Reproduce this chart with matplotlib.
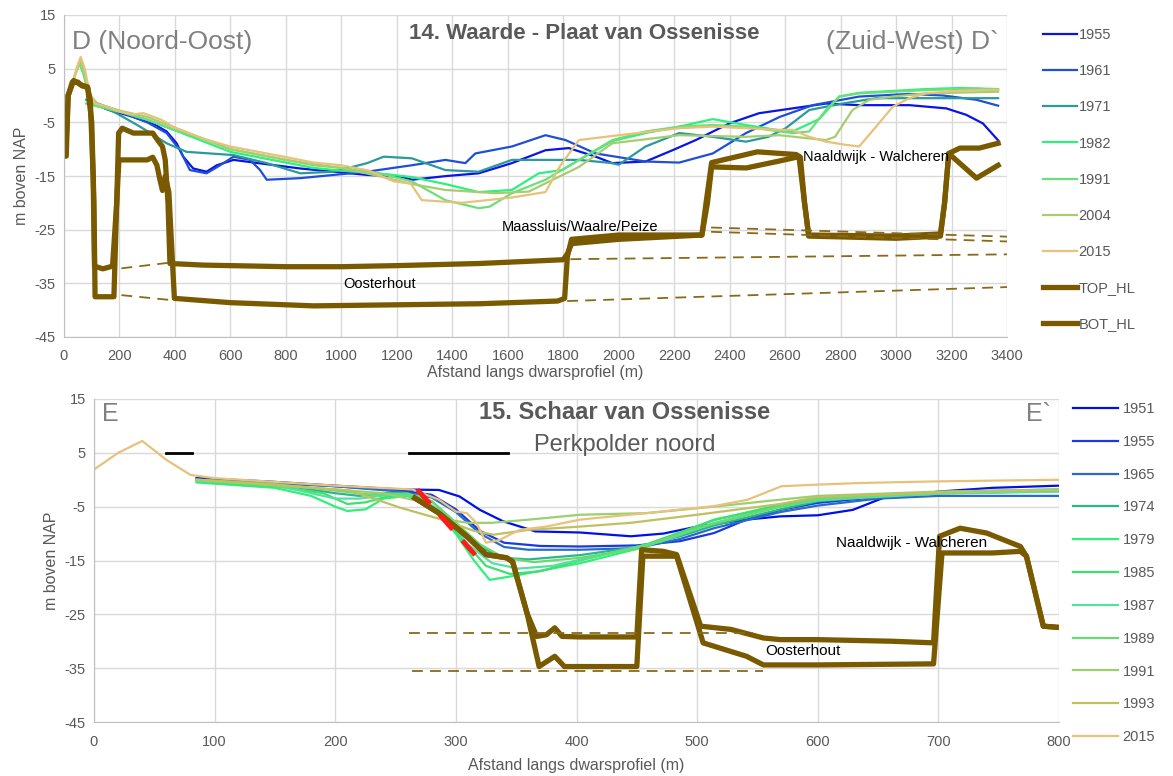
import matplotlib
matplotlib.use('Agg')
import matplotlib.pyplot as plt

plt.rcParams['font.family'] = ['Liberation Sans', 'DejaVu Sans']
plt.rcParams['axes.unicode_minus'] = False

# ------------------------------- data, top profile (14. Waarde - Plaat van Ossenisse)
top_years = ['1955', '1961', '1971', '1982', '1991', '2004', '2015']
top_colors = ['#0a14e6', '#1f4fd8', '#2a9a9a', '#2ef07a', '#6be07a', '#a8cc70', '#e6c27a']

t1955 = [(85, -0.8), (150, -2.5), (250, -4), (330, -5.5), (370, -6.7), (406, -8.9), (430, -11.4), (466, -13.6),
         (514, -14.2), (551, -13), (611, -12), (731, -12.8), (852, -13.6), (972, -14.2), (1093, -14.8),
         (1213, -15.1), (1254, -15.7), (1380, -15), (1495, -14.5), (1615, -12.6), (1736, -10.2), (1820, -9.8),
         (1917, -11.4), (1977, -12.6), (2097, -12.3), (2194, -10.2), (2278, -8.3), (2399, -5.2), (2506, -3.3),
         (2627, -2.4), (2747, -1.5), (2867, -1.8), (3048, -1.8), (3181, -2.4), (3253, -3.6), (3313, -5.2),
         (3367, -8.3)]
t1961 = [(85, -0.8), (200, -3), (300, -5), (370, -7), (418, -10.2), (454, -13.9), (514, -14.5), (563, -13),
         (611, -11.4), (671, -12), (707, -13.9), (731, -15.7), (852, -15.4), (972, -14.8), (1093, -14.2),
         (1213, -13.3), (1254, -13), (1375, -12), (1447, -12.6), (1483, -10.8), (1615, -9.5), (1736, -7.4),
         (1808, -8.3), (1917, -10.8), (2097, -12.3), (2218, -12.5), (2339, -10.8), (2459, -7), (2580, -4),
         (2700, -1.8), (2867, -0.2), (3048, 0.3), (3169, 0), (3290, -0.8), (3368, -1.9)]
t1971 = [(80, -0.8), (189, -3.3), (274, -5.8), (370, -8.9), (442, -10.5), (611, -11.1), (731, -12.6),
         (852, -14.5), (972, -14.2), (1093, -12.6), (1153, -11.4), (1254, -11.7), (1375, -13.9), (1495, -14.2),
         (1615, -12), (1857, -12), (1977, -12.6), (2000, -12.9), (2097, -9.5), (2218, -7), (2339, -7.7),
         (2459, -8.6), (2540, -7.7), (2602, -6.1), (2687, -2.7), (2807, -1.5), (2928, -0.5), (3368, -0.5)]
t1982 = [(80, -1.5), (200, -3), (300, -4.5), (400, -6.5), (500, -8.5), (600, -10.5), (700, -11.5), (800, -12.5),
         (900, -13.5), (1000, -14), (1134, -14.5), (1254, -15.2), (1375, -16.5), (1495, -18), (1615, -17.6),
         (1712, -14.5), (1796, -13.9), (1857, -12), (1977, -8.5), (2097, -7), (2218, -5.8), (2339, -4.4),
         (2459, -5.5), (2580, -6.5), (2627, -6.7), (2723, -4.4), (2795, -0.2), (2867, 0.5), (3108, 1.2),
         (3229, 1.4), (3368, 1.2)]
t1991 = [(10, -0.5), (35, 3), (55, 6), (70, 4), (90, 0), (120, -2), (200, -3), (300, -4.5), (400, -6.5),
         (500, -8), (600, -10), (700, -11), (800, -12), (900, -13), (1000, -13.5), (1134, -14.5), (1254, -16),
         (1375, -19.5), (1495, -21), (1535, -20.7), (1615, -18.2), (1736, -15.7), (1857, -12), (1977, -8.3),
         (2097, -6.7), (2218, -5.8), (2339, -5.5), (2459, -5.8), (2580, -6.7), (2627, -7), (2687, -6.7),
         (2747, -2.7), (2795, -0.2), (2867, 0.4), (3108, 1), (3290, 1.3), (3368, 1)]
t2004 = [(0, -0.3), (20, 0.5), (40, 4), (60, 6.5), (75, 4), (95, 0), (120, -1.5), (200, -2.8), (300, -4),
         (400, -6), (500, -8), (600, -10), (700, -11), (800, -12), (900, -12.8), (1000, -13.5), (1134, -15),
         (1254, -16.5), (1375, -17.6), (1555, -18.2), (1676, -17.9), (1857, -13.3), (1977, -8.9), (2218, -7.4),
         (2459, -7.7), (2580, -7.4), (2687, -8), (2747, -8.3), (2780, -7.7), (2843, -2.7), (2904, -0.8),
         (2988, -0.2), (3108, 0.4), (3368, 0.7)]
t2015 = [(0, -0.5), (20, 0), (45, 5), (60, 7.2), (75, 5), (90, 1), (110, -1.5), (150, -2), (200, -3), (250, -3.5),
         (286, -3.3), (350, -4.5), (400, -6), (500, -8), (599, -9.5), (700, -10.5), (792, -11.4), (900, -12.5),
         (1000, -13), (1100, -14), (1189, -16), (1250, -16.4), (1290, -19.5), (1435, -20), (1615, -19),
         (1736, -18), (1790, -13), (1857, -8.3), (2000, -7.4), (2218, -6.1), (2339, -5.8), (2459, -6.1),
         (2580, -6.4), (2626, -6.4), (2687, -7.7), (2747, -8.6), (2820, -9.2), (2867, -9.5), (2928, -5.8),
         (2988, -2.1), (3048, -0.5), (3108, 0.4), (3229, 0.9), (3368, 1.1)]
top_series = [t1955, t1961, t1971, t1982, t1991, t2004, t2015]

top_hl = [(0, -8.5), (8, -8.5), (15, 0), (30, 2.5), (50, 2.5), (65, 1.8), (85, 1.5), (95, -1), (105, -15),
          (110, -31.8), (140, -32.3), (175, -31.8), (190, -20), (197, -7), (210, -6.1), (250, -7), (320, -7),
          (340, -8.5), (355, -9.5), (365, -12), (375, -20), (382, -31.3), (500, -31.6), (800, -31.9),
          (1000, -31.9), (1200, -31.7), (1500, -31.3), (1800, -30.6), (1815, -29.5), (1830, -27.6),
          (2000, -26.8), (2300, -26), (2320, -20), (2335, -13.3), (2460, -13.5), (2580, -12.2), (2650, -11.4),
          (2670, -20), (2685, -26), (3000, -26.2), (3160, -25.8), (3175, -20), (3190, -10.8), (3230, -9.8),
          (3300, -9.8), (3368, -8.9)]
bot_hl = [(0, -11.3), (8, -11.3), (15, 0), (35, 2.8), (60, 2), (85, 1.6), (100, -5), (108, -20), (112, -37.5),
          (180, -37.5), (190, -20), (198, -12), (300, -12), (320, -11.5), (335, -13), (345, -15.5), (355, -17.7),
          (365, -15), (378, -18), (390, -30), (398, -37.8), (600, -38.6), (900, -39.2), (1200, -39),
          (1500, -38.8), (1780, -38.3), (1805, -37.8), (1815, -30), (1830, -26.8), (2000, -26), (2300, -26),
          (2315, -20), (2335, -12.5), (2500, -10.5), (2640, -11), (2655, -11.5), (2670, -20), (2685, -26.2),
          (3000, -26.6), (3160, -26.2), (3175, -20), (3190, -10.8), (3290, -15.4), (3368, -13)]

top_dashed = [[(207, -32.2), (406, -31.0)], [(207, -37.2), (382, -38.1)],
              [(1826, -30.5), (3400, -29.6)], [(1814, -38.3), (3400, -35.7)],
              [(2333, -24.6), (3400, -26.3)], [(2333, -25.4), (3400, -27.2)]]

# ------------------------------- data, bottom profile (15. Schaar van Ossenisse)
bot_years = ['1951', '1955', '1965', '1974', '1979', '1985', '1987', '1989', '1991', '1993', '2015']
bot_colors = ['#0010e8', '#1a3ae0', '#2a6ac8', '#2ab88a', '#2ef07a', '#40e070', '#55e0a0', '#6cd870',
              '#9ad070', '#c0c060', '#e6c27a']

b1951 = [(85, 0.3), (143, -0.3), (185, -0.9), (254, -1.8), (286, -1.9), (303, -3.1), (320, -5.6), (339, -7.7),
         (366, -9.6), (403, -9.8), (445, -10.5), (472, -10), (500, -8.7), (541, -7.4), (569, -6.8), (600, -6.6),
         (629, -5.6), (654, -3.4), (676, -2.9), (700, -2.2), (745, -1.5), (800, -1.1)]
b1955 = [(85, 0.2), (150, -0.5), (200, -1.2), (254, -2), (280, -2.8), (300, -5.5), (320, -9.5), (340, -11.7),
         (370, -12.3), (403, -12.4), (450, -12.2), (486, -11.4), (514, -9.9), (541, -7.4), (569, -5.6),
         (600, -4.3), (650, -3.2), (700, -2.5), (800, -2.1)]
b1965 = [(85, 0), (200, -1.2), (254, -2.2), (280, -3.3), (300, -6), (320, -10), (340, -12.5), (360, -13),
         (403, -13), (450, -12.7), (486, -11), (514, -9), (569, -6), (600, -4.8), (650, -3.5), (700, -3),
         (800, -3)]
b1974 = [(85, 0), (150, -0.8), (200, -2.5), (220, -3), (240, -2.5), (260, -2.5), (280, -4), (300, -8),
         (320, -12.5), (340, -14.5), (360, -14.8), (403, -14), (450, -12.5), (486, -10.5), (514, -8.5),
         (569, -5.5), (600, -4), (650, -3), (700, -2.5), (800, -2)]
b1979 = [(85, -0.5), (150, -1.5), (180, -3), (200, -5), (210, -5.8), (225, -5.5), (240, -3.5), (260, -3),
         (280, -5), (300, -10), (315, -15), (328, -18.6), (347, -17.9), (361, -17.3), (403, -15.5),
         (458, -12.4), (486, -9.9), (514, -7.4), (569, -4.9), (600, -3.8), (650, -2.8), (700, -2.3), (800, -1.8)]
b1985 = [(85, -0.3), (150, -1.2), (190, -2.5), (210, -4.5), (225, -4.2), (245, -3), (265, -3), (285, -5.5),
         (305, -11), (325, -16), (345, -17.5), (370, -17), (403, -15), (458, -12), (514, -7.5), (569, -4.6),
         (600, -3.5), (700, -2.4), (800, -2)]
b1987 = [(85, -0.2), (150, -1), (200, -3.5), (220, -3.5), (245, -2.8), (270, -3), (290, -6.5), (310, -12),
         (330, -15.5), (352, -16.5), (380, -16), (420, -14), (470, -11.5), (514, -8), (569, -5), (600, -3.8),
         (700, -2.6), (800, -2.2)]
b1989 = [(85, 0), (150, -0.8), (200, -2), (230, -2.8), (260, -2.6), (280, -4), (300, -8), (320, -12),
         (340, -14.5), (365, -15.3), (403, -14.5), (450, -12.8), (500, -9), (569, -5), (600, -3.5), (700, -2.3),
         (800, -1.8)]
b1991 = [(85, 0), (150, -1), (200, -1.8), (240, -2.5), (270, -4), (292, -7.4), (310, -8), (330, -8),
         (361, -7.4), (403, -6.5), (458, -6.2), (514, -5), (569, -3.7), (600, -3), (700, -2.2), (800, -1.8)]
b1993 = [(85, 0), (150, -1), (212, -2), (254, -5.2), (290, -7.5), (315, -9.5), (331, -10.2), (361, -9.3),
         (403, -8.7), (445, -8), (500, -6.5), (569, -4.5), (600, -3.2), (700, -2.4), (800, -1.9)]
b2015 = [(0, 1.9), (20, 5), (40, 7.2), (60, 3.7), (80, 0.9), (100, 0.3), (150, -0.4), (200, -1.1), (236, -1.5),
         (264, -1.8), (286, -3.7), (300, -5.9), (309, -6.2), (317, -8), (325, -11.7), (336, -11.2),
         (353, -9.3), (375, -8.7), (403, -7.4), (458, -6.2), (514, -4.9), (542, -3.7), (570, -1.2),
         (600, -0.9), (635, -0.6), (700, -0.3), (800, 0)]
bot_series = [b1951, b1955, b1965, b1974, b1979, b1985, b1987, b1989, b1991, b1993, b2015]

e_top_hl = [(266, -3.4), (286, -6.2), (309, -10.5), (325, -13.9), (342, -14.5), (347, -15.2), (359, -24.8),
            (367, -29.1), (375, -28.8), (382, -27.5), (388, -29.1), (403, -29.2), (450, -29.2), (454, -13),
            (472, -13.3), (483, -13.9), (503, -27.2), (528, -27.8), (555, -29.4), (569, -29.7), (600, -29.7),
            (662, -30), (696, -30.3), (701, -10.5), (718, -9), (740, -9.9), (768, -12.4), (773, -14.2),
            (787, -27.2), (798, -27.4)]
e_bot_hl = [(266, -3.4), (286, -6.2), (309, -10.5), (325, -13.9), (342, -14.5), (347, -15.2), (359, -24.8),
            (369, -34.7), (382, -32.8), (390, -34.7), (450, -34.7), (455, -14.2), (483, -14.2), (505, -30.3),
            (541, -32.8), (555, -34.4), (600, -34.4), (696, -34.2), (703, -13.6), (745, -13.6), (768, -13.3),
            (773, -14.2), (787, -27.2), (798, -27.4)]
bot_dashed = [[(261, -28.5), (546, -28.5)], [(264, -35.5), (555, -35.5)]]
red_line = [(268, -1.8), (320, -15)]
black_lines = [[(60, 5), (81, 5)], [(261, 5), (343, 5)]]

BROWN = '#7a5a00'
DASH = '#8a6a1a'
GRAY = '#595959'


def xy(pts):
    return [p[0] for p in pts], [p[1] for p in pts]


def style_axes(ax, xmax, xstep, xlabelpad):
    ax.set_ylim(-45, 15)
    ax.set_yticks(range(-45, 16, 10))
    ax.set_xlim(0, xmax)
    ax.set_xticks(range(0, xmax + 1, xstep))
    ax.grid(True, color='#d9d9d9', linewidth=1)
    ax.set_axisbelow(True)
    for s in ['top', 'right']:
        ax.spines[s].set_visible(False)
    for s in ['left', 'bottom']:
        ax.spines[s].set_color('#bfbfbf')
    ax.tick_params(axis='y', length=0, labelsize=10.5, labelcolor=GRAY, pad=6)
    ax.tick_params(axis='x', length=0, labelsize=10.5, labelcolor=GRAY, pad=9)
    ax.set_ylabel('m boven NAP', fontsize=11.5, color=GRAY)
    ax.set_xlabel('Afstand langs dwarsprofiel (m)', fontsize=11.5, color=GRAY, labelpad=xlabelpad)


fig = plt.figure(figsize=(11.73, 7.76), dpi=100)

# ------------------------------- top chart
ax1 = fig.add_axes([64 / 1173, 1 - 337 / 776, (1007 - 64) / 1173, (337 - 15) / 776])
style_axes(ax1, 3400, 200, 1)
for name, col, pts in zip(top_years, top_colors, top_series):
    x, y = xy(pts)
    ax1.plot(x, y, color=col, lw=1.6, label=name)
x, y = xy(top_hl)
ax1.plot(x, y, color=BROWN, lw=3.8, label='TOP_HL', solid_joinstyle='round')
x, y = xy(bot_hl)
ax1.plot(x, y, color=BROWN, lw=3.8, label='BOT_HL', solid_joinstyle='round')
for seg in top_dashed:
    x, y = xy(seg)
    ax1.plot(x, y, color=DASH, lw=1.3, dashes=(6, 4))
ax1.text(1138, -35.1, 'Oosterhout', fontsize=10.5, ha='center', va='center')
ax1.text(1859, -24.5, 'Maassluis/Waalre/Peize', fontsize=10.5, ha='center', va='center')
ax1.text(2926, -11.4, 'Naaldwijk - Walcheren', fontsize=10.5, ha='center', va='center')
ax1.text(1876, 11.6, '14. Waarde - Plaat van Ossenisse', fontsize=16, fontweight='bold',
         color=GRAY, ha='center', va='center')
ax1.text(30, 10.0, 'D (Noord-Oost)', fontsize=19, color='#808080', ha='left', va='center')
ax1.text(3370, 10.0, '(Zuid-West) D`', fontsize=19, color='#808080', ha='right', va='center')
ax1.legend(loc='upper left', bbox_to_anchor=(1043 / 1173, 1 - 28 / 776), bbox_transform=fig.transFigure,
           frameon=False, fontsize=10.5, handlelength=2.3, handletextpad=0.15, labelspacing=1.52,
           borderpad=0, borderaxespad=0, labelcolor=GRAY)

# ------------------------------- bottom chart
ax2 = fig.add_axes([94 / 1173, 1 - 722 / 776, (1059 - 94) / 1173, (722 - 399) / 776])
style_axes(ax2, 800, 100, 7)
for name, col, pts in zip(bot_years, bot_colors, bot_series):
    x, y = xy(pts)
    ax2.plot(x, y, color=col, lw=1.6, label=name)
x, y = xy(e_top_hl)
ax2.plot(x, y, color=BROWN, lw=3.8, solid_joinstyle='round')
x, y = xy(e_bot_hl)
ax2.plot(x, y, color=BROWN, lw=3.8, solid_joinstyle='round')
for seg in bot_dashed:
    x, y = xy(seg)
    ax2.plot(x, y, color=DASH, lw=1.3, dashes=(6, 4))
x, y = xy(red_line)
ax2.plot(x, y, color='#ff1a1a', lw=3.5, dashes=(4, 3), solid_capstyle='butt')
for seg in black_lines:
    x, y = xy(seg)
    ax2.plot(x, y, color='black', lw=2)
ax2.text(678, -11.7, 'Naaldwijk - Walcheren', fontsize=11, ha='center', va='center')
ax2.text(588, -31.9, 'Oosterhout', fontsize=11, ha='center', va='center')
ax2.text(440, 12.4, '15. Schaar van Ossenisse', fontsize=17, fontweight='bold', color=GRAY,
         ha='center', va='center')
ax2.text(440, 6.5, 'Perkpolder noord', fontsize=17, color=GRAY, ha='center', va='center')
ax2.text(7, 12.3, 'E', fontsize=18, color='#808080', ha='left', va='center')
ax2.text(793, 12.3, 'E`', fontsize=18, color='#808080', ha='right', va='center')
ax2.legend(loc='upper left', bbox_to_anchor=(1073 / 1173, 1 - 402 / 776), bbox_transform=fig.transFigure,
           frameon=False, fontsize=10.5, handlelength=3.1, handletextpad=0.3, labelspacing=1.29,
           borderpad=0, borderaxespad=0, labelcolor=GRAY)

fig.savefig('out.png', dpi=100)
